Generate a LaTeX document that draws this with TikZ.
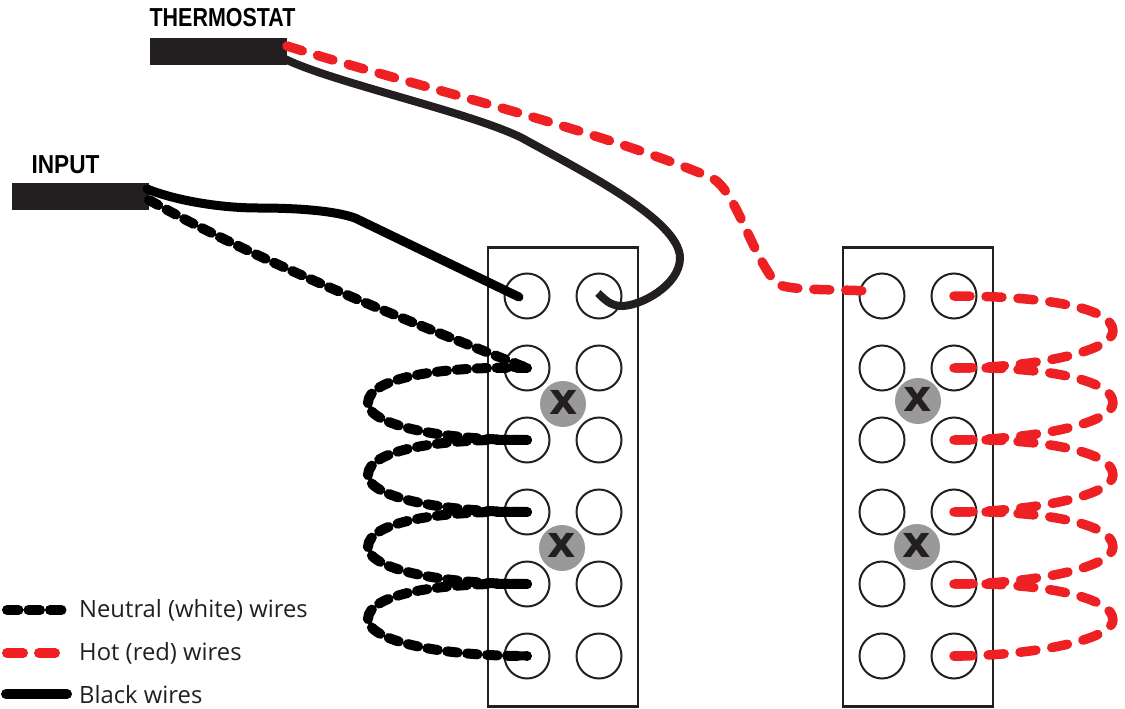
\documentclass[tikz,border=0pt]{standalone}
\usepackage{fontspec}
\setmainfont{Open Sans}
\newfontfamily\headfont{Liberation Sans}
\newfontfamily\xfont{DejaVu Sans}
\definecolor{ink}{HTML}{231F20}
\definecolor{hot}{HTML}{EE2024}
\definecolor{bolt}{HTML}{999999}
\tikzset{
  panel/.style={draw=ink,line width=2.4pt,minimum width=150pt,minimum height=459pt,inner sep=0pt},
  term/.style={circle,draw=ink,line width=2pt,minimum size=45pt,inner sep=0pt},
  boltc/.style={circle,fill=bolt,minimum size=46pt,inner sep=0pt},
  boltx/.style={text=ink,font=\xfont\bfseries\fontsize{44}{44}\selectfont,inner sep=0pt},
  jacket/.style={fill=ink,minimum width=137pt,minimum height=27pt,inner sep=0pt},
  head/.style={font=\headfont\bfseries\fontsize{26}{26}\selectfont,inner sep=0pt,text=black},
  legendtext/.style={font=\fontsize{23.8}{26}\selectfont,text=ink,anchor=west,inner sep=0pt},
  blackwire/.style={draw=black,line width=9pt,line cap=round,line join=round},
  thermowire/.style={draw=ink,line width=8pt,line join=round},
  neutralwire/.style={draw=black,line width=10pt,line cap=round,line join=round,dash pattern=on 10.5pt off 9.5pt},
  hotwire/.style={draw=hot,line width=9.5pt,line cap=round,line join=round,dash pattern=on 16pt off 16pt},
}
\begin{document}
\begin{tikzpicture}[x=1pt,y=-1pt]
\useasboundingbox (0,0) rectangle (1125,709);
\node[panel] (LP) at (563,477) {};
\node[panel] (RP) at (918,477) {};
\foreach \r/\y in {1/296,2/368,3/440,4/512,5/584,6/656}{
  \node[term] (La\r) at (527,\y) {};
  \node[term] (Lb\r) at (599,\y) {};
  \node[term] (Ra\r) at (882,\y) {};
  \node[term] (Rb\r) at (954,\y) {};
}
\node[boltc] (B1) at (563,404) {}; \node[boltx] (X1) at (564,402) {x};
\node[boltc] (B2) at (562,548) {}; \node[boltx] (X2) at (562,545) {x};
\node[boltc] (B3) at (918,401) {}; \node[boltx] (X3) at (918,399) {x};
\node[boltc] (B4) at (917,547) {}; \node[boltx] (X4) at (917,545) {x};
\node[jacket] (TH) at (218.5,51.5) {};
\node[jacket] (IN) at (80,196.5) {};
\node[head] (THL) at (222.5,18) {\scalebox{0.825}[1]{THERMOSTAT}};
\node[head] (INL) at (65.5,165) {\scalebox{0.87}[1]{INPUT}};
\coordinate (thR) at (287,46);
\coordinate (thK) at (283,58);
\coordinate (inK) at (147,189);
\coordinate (inN) at (149,200);
% black wires
\draw[blackwire] (inK) .. controls (180,202) and (225,208) .. (258,208)
  .. controls (300,208) and (335,211) .. (355,218)
  -- ([shift={(-8,1)}]La1.center);
\draw[thermowire] (thK) .. controls (330,82) and (470,112) .. (522,138)
  .. controls (580,170) and (680,220) .. (680,258)
  .. controls (680,285) and (640,307) .. (620,306)
  .. controls (610,305) and (605,300) .. ([shift={(-1,-3)}]Lb1.center);
% neutral
\draw[neutralwire] (inN) .. controls (260,262) and (400,318) .. (La2.center);
\draw[neutralwire] (La2.center) .. controls (440,366) and (368,378) .. (368,403)
  .. controls (368,425) and (440,440) .. (La3.center);
\draw[neutralwire] (La3.center) .. controls (440,438) and (368,450) .. (368,475)
  .. controls (368,497) and (440,512) .. (La4.center);
\draw[neutralwire] (La4.center) .. controls (440,510) and (368,522) .. (368,547)
  .. controls (368,569) and (440,584) .. (La5.center);
\draw[neutralwire] (La5.center) .. controls (440,582) and (368,594) .. (368,619)
  .. controls (368,641) and (440,656) .. (La6.center);
\draw[blackwire] (La6.center) -- ++(-12,-0.3);
\draw[blackwire] (La2.center) -- ++(-14,-0.8);
% hot
\draw[hotwire] (thR) .. controls (400,82) and (600,130) .. (712,178)
  .. controls (735,190) and (750,250) .. (775,282)
  .. controls (782,291) and (830,289) .. ([shift={(-14,-5)}]Ra1.center);
\draw[hotwire] (Rb1.center) .. controls (1030,296) and (1113,305) .. (1113,331)
  .. controls (1113,352) and (1030,368) .. (Rb2.center);
\draw[hotwire] (Rb2.center) .. controls (1030,366) and (1113,377) .. (1113,403)
  .. controls (1113,424) and (1030,440) .. (Rb3.center);
\draw[hotwire] (Rb3.center) .. controls (1030,438) and (1113,449) .. (1113,475)
  .. controls (1113,496) and (1030,512) .. (Rb4.center);
\draw[hotwire] (Rb4.center) .. controls (1030,510) and (1113,521) .. (1113,547)
  .. controls (1113,568) and (1030,584) .. (Rb5.center);
\draw[hotwire] (Rb5.center) .. controls (1030,582) and (1113,595) .. (1113,620)
  .. controls (1113,640) and (1030,656) .. (Rb6.center);
\draw[hotwire,dash pattern=on 8pt off 40pt] (Rb6.center) -- ++(8,0);
% legend
\coordinate (n0) at (7,610); \coordinate (n1) at (62,610);
\coordinate (h0) at (7,653); \coordinate (h1) at (57,653);
\coordinate (b0) at (6,694); \coordinate (b1) at (67,694);
\draw[neutralwire,line width=10pt,dash pattern=on 11.5pt off 10pt] (n0) -- (n1);
\draw[hotwire,line width=10pt,dash pattern=on 16pt off 16pt] (h0) -- (h1);
\draw[blackwire,line width=10pt] (b0) -- (b1);
\node[legendtext] (LN) at (79,610) {Neutral (white) wires};
\node[legendtext] (LH) at (79,653) {Hot (red) wires};
\node[legendtext] (LB) at (79,695) {Black wires};
\end{tikzpicture}
\end{document}
